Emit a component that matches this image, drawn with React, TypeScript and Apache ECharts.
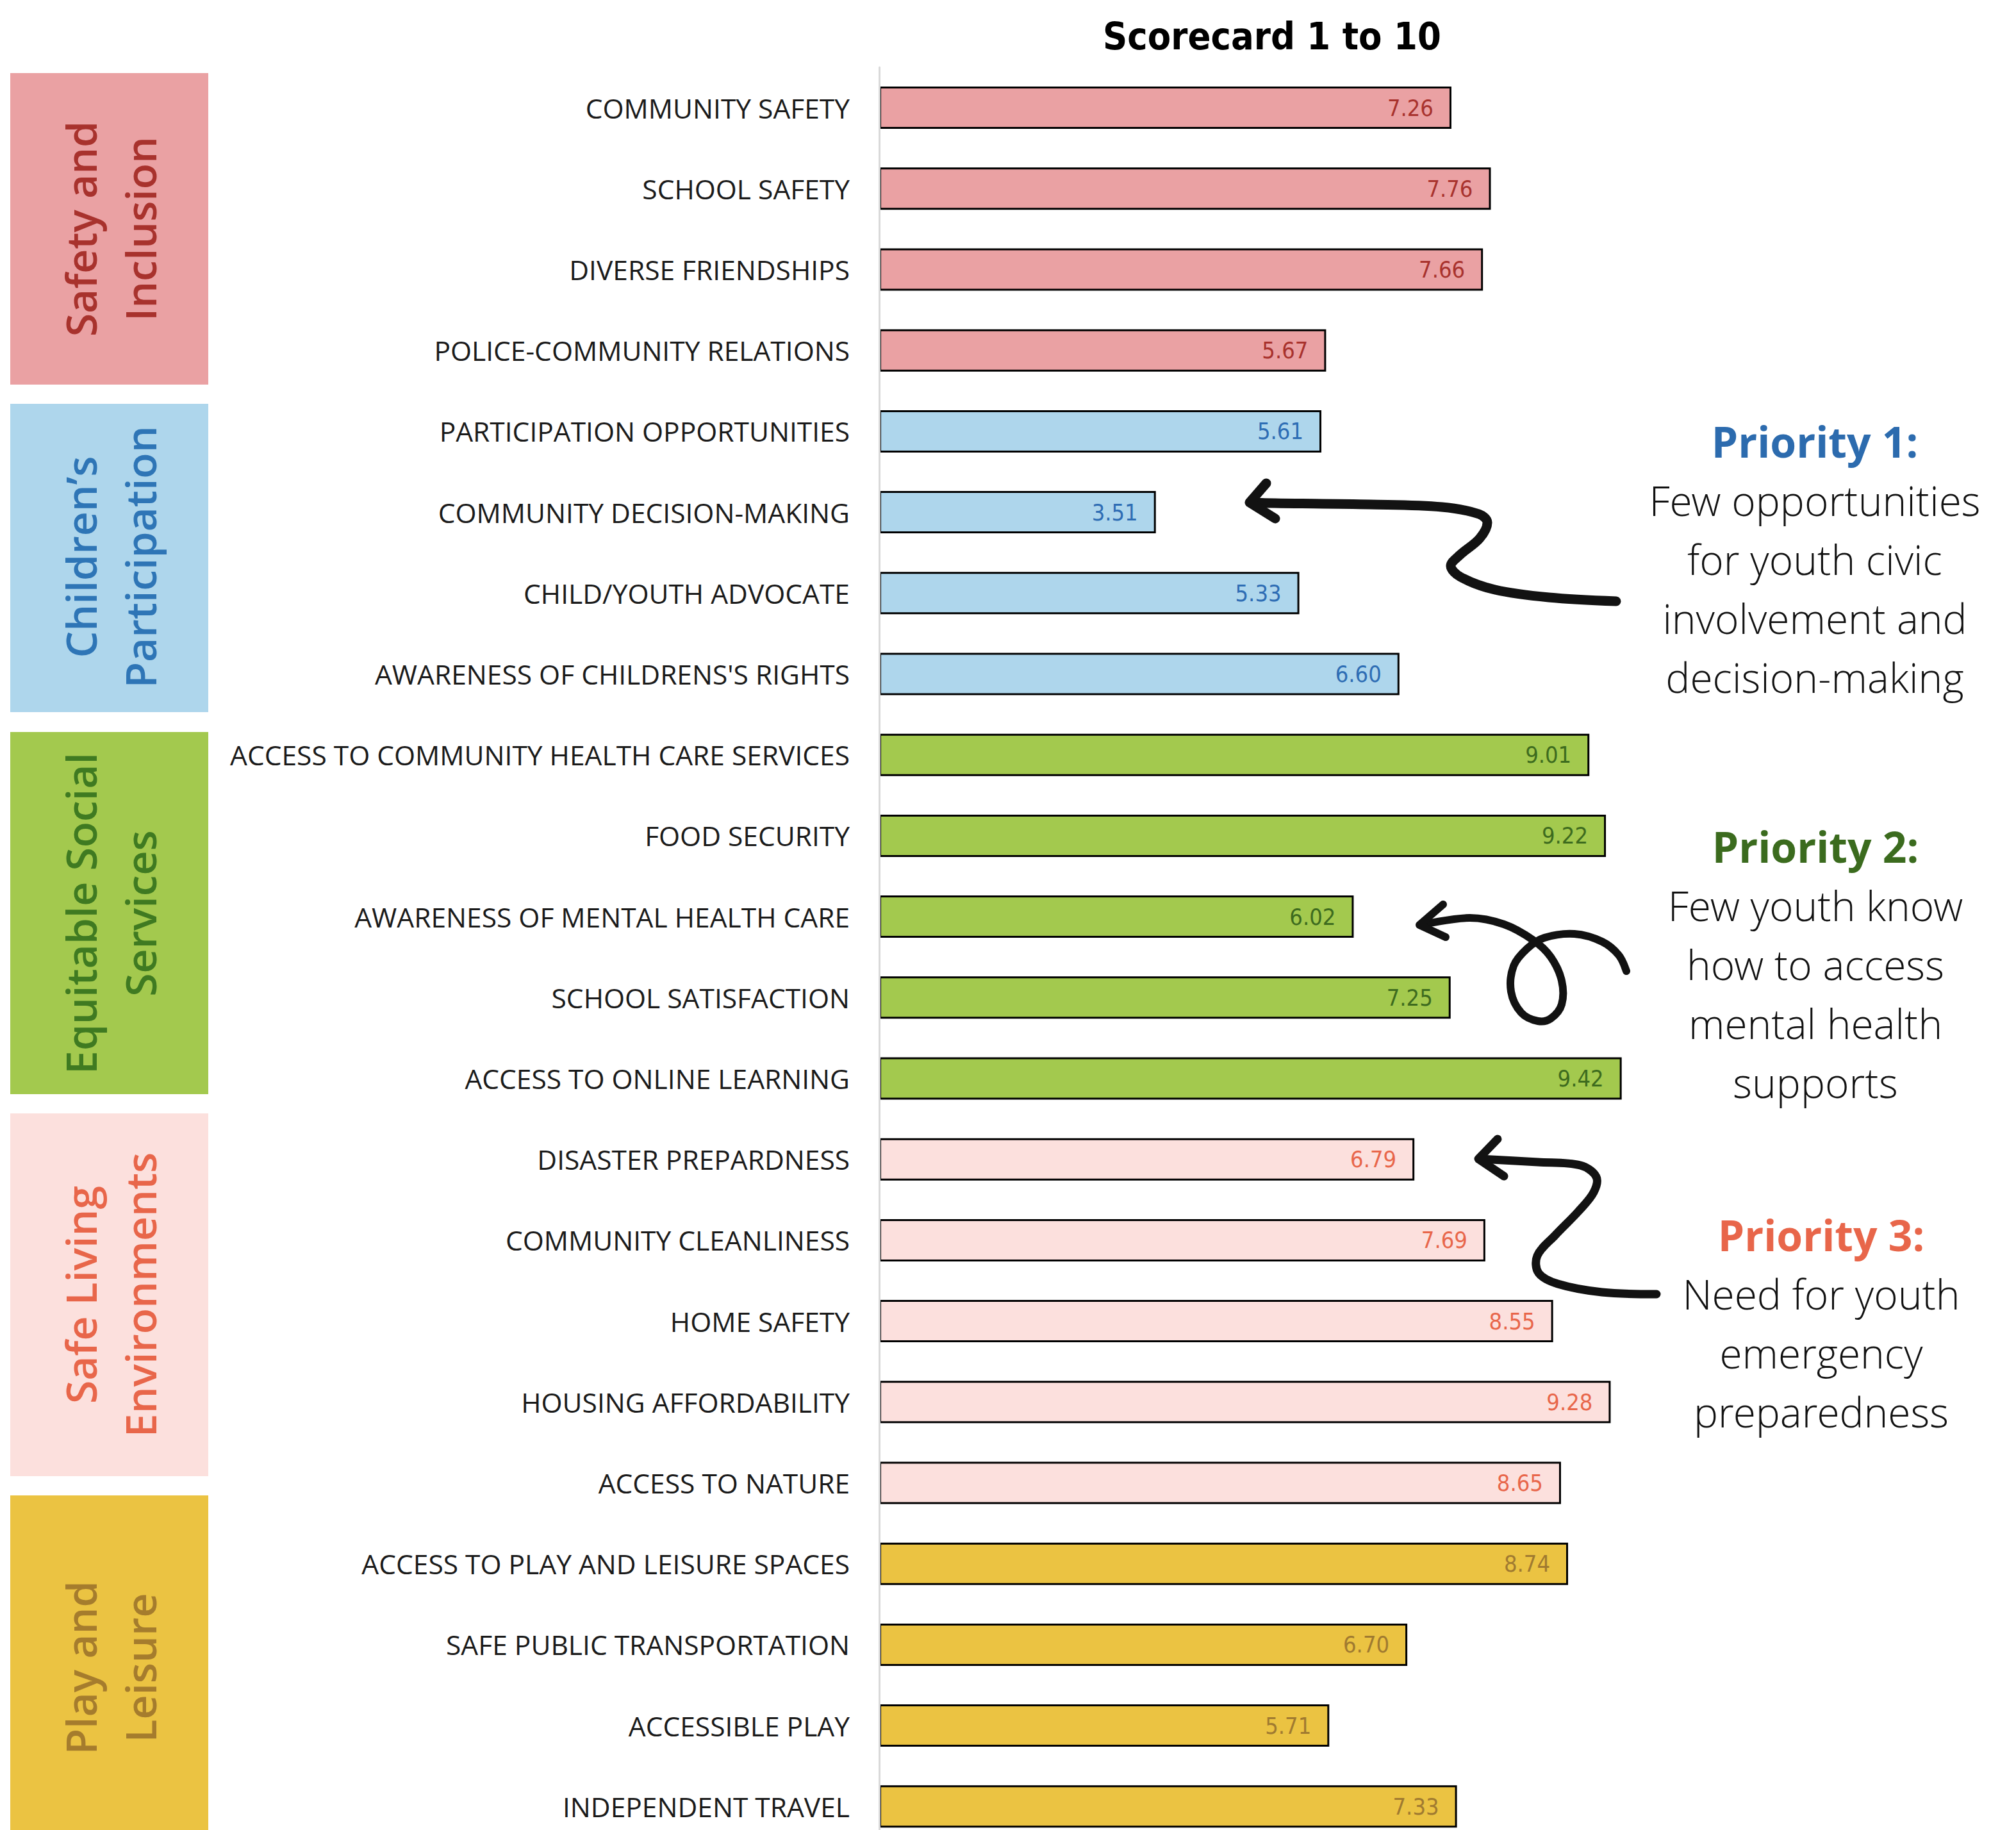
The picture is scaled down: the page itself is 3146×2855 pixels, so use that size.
import React, { useEffect, useRef } from "react";
import * as echarts from "echarts";

// ---------- data ----------
const categories = [
  "COMMUNITY SAFETY",
  "SCHOOL SAFETY",
  "DIVERSE FRIENDSHIPS",
  "POLICE-COMMUNITY RELATIONS",
  "PARTICIPATION OPPORTUNITIES",
  "COMMUNITY DECISION-MAKING",
  "CHILD/YOUTH ADVOCATE",
  "AWARENESS OF CHILDRENS'S RIGHTS",
  "ACCESS TO COMMUNITY HEALTH CARE SERVICES",
  "FOOD SECURITY",
  "AWARENESS OF MENTAL HEALTH CARE",
  "SCHOOL SATISFACTION",
  "ACCESS TO ONLINE LEARNING",
  "DISASTER PREPARDNESS",
  "COMMUNITY CLEANLINESS",
  "HOME SAFETY",
  "HOUSING AFFORDABILITY",
  "ACCESS TO NATURE",
  "ACCESS TO PLAY AND LEISURE SPACES",
  "SAFE PUBLIC TRANSPORTATION",
  "ACCESSIBLE PLAY",
  "INDEPENDENT TRAVEL",
];
const scores = [
  7.26, 7.76, 7.66, 5.67, 5.61, 3.51, 5.33, 6.6, 9.01, 9.22, 6.02, 7.25, 9.42,
  6.79, 7.69, 8.55, 9.28, 8.65, 8.74, 6.7, 5.71, 7.33,
];
const groupNames = [
  "Safety and\nInclusion",
  "Children\u2019s\nParticipation",
  "Equitable Social\nServices",
  "Safe Living\nEnvironments",
  "Play and\nLeisure",
];
const groupSizes = [4, 4, 5, 5, 4];
const barColors = ["#EAA1A3", "#AED6EC", "#A3C94E", "#FCE0DD", "#EBC342"];
const valueLabelColors = ["#A8322D", "#2E6DB4", "#3D6B1E", "#E8664A", "#A07A30"];
const groupTextColors = ["#A8322D", "#2E75B6", "#3F7A21", "#E8664A", "#A57C2D"];

const chartTitle = "Scorecard 1 to 10";
const priorityTitles = ["Priority 1:", "Priority 2:", "Priority 3:"];
const priorityTexts = [
  "Few opportunities\nfor youth civic\ninvolvement and\ndecision-making",
  "Few youth know\nhow to access\nmental health\nsupports",
  "Need for youth\nemergency\npreparedness",
];
const priorityColors = ["#2C6BAE", "#3B6B1E", "#E8664A"];

// ---------- layout (pixels) ----------
const W = 3146;
const H = 2855;
const GRID_LEFT = 1372;
const GRID_RIGHT_EDGE = 2602;
const GRID_TOP = 105;
const BAND = 126.2;
const CHART_H = Math.ceil(GRID_TOP + BAND * categories.length);
const boxLayout = [
  { top: 114, bottom: 600, textY: 357 },
  { top: 630, bottom: 1111, textY: 869 },
  { top: 1142, bottom: 1707, textY: 1425 },
  { top: 1737, bottom: 2303, textY: 2020 },
  { top: 2333, bottom: 2880, textY: 2602 },
];
const priorityLayout = [
  { x: 2832, titleY: 688, bodyY: 780 },
  { x: 2833, titleY: 1320, bodyY: 1412 },
  { x: 2842, titleY: 1926, bodyY: 2018 },
];
const arrows = [
  {
    width: 15,
    shaft: [
      [2522, 938], [2417, 932], [2333, 920], [2279, 900], [2264, 883], [2278, 866],
      [2309, 840], [2321, 815], [2308, 802], [2250, 791], [2138, 787], [1990, 785], [1952, 784],
    ],
    head: [[1976, 754], [1950, 784], [1990, 809]],
  },
  {
    width: 12,
    shaft: [
      [2217, 1443], [2293, 1432], [2347, 1442], [2393, 1467], [2420, 1493], [2437, 1530],
      [2437, 1567], [2420, 1589], [2400, 1593], [2374, 1580], [2358, 1547], [2362, 1507],
      [2383, 1480], [2410, 1463], [2457, 1457], [2500, 1469], [2526, 1490], [2538, 1515],
    ],
    head: [[2252, 1411], [2215, 1443], [2256, 1462]],
  },
  {
    width: 13,
    shaft: [
      [2309, 1808], [2400, 1813], [2466, 1818], [2491, 1836], [2487, 1860], [2463, 1890],
      [2427, 1927], [2399, 1959], [2401, 1986], [2431, 2003], [2500, 2016], [2585, 2019],
    ],
    head: [[2337, 1777], [2307, 1808], [2347, 1835]],
  },
];

const CAT_FONT = '"Open Sans", "Noto Sans", sans-serif';
const NUM_FONT = '"DejaVu Sans Condensed", "Liberation Sans Narrow", sans-serif';
const OPEN = '"Open Sans", "Noto Sans", sans-serif';
const OPEN_LIGHT = '"Open Sans Light", "Open Sans", "Noto Sans", sans-serif';

export default function App() {
  const ref = useRef<HTMLDivElement>(null);

  useEffect(() => {
    if (!ref.current) return;
    const chart = echarts.init(ref.current, null, { renderer: "svg" });

    const groupIdx: number[] = [];
    groupSizes.forEach((n, g) => {
      for (let i = 0; i < n; i++) groupIdx.push(g);
    });

    const barData = scores.map((v, i) => ({
      value: v,
      itemStyle: { color: barColors[groupIdx[i]] },
      label: { color: valueLabelColors[groupIdx[i]] },
    }));

    const graphics: any[] = [];

    // title
    graphics.push({
      type: "text",
      x: (GRID_LEFT + 2598) / 2,
      y: 56,
      style: {
        text: chartTitle,
        fill: "#000",
        fontFamily: NUM_FONT,
        fontWeight: "bold",
        fontSize: 59,
        align: "center",
        verticalAlign: "middle",
      },
    });

    // group boxes
    boxLayout.forEach((b, g) => {
      graphics.push({
        type: "rect",
        shape: { x: 16, y: b.top, width: 309, height: b.bottom - b.top },
        style: { fill: barColors[g] },
        z: 1,
      });
      graphics.push({
        type: "text",
        x: 171,
        y: b.textY,
        rotation: Math.PI / 2,
        z: 2,
        style: {
          text: groupNames[g],
          fill: groupTextColors[g],
          fontFamily: OPEN,
          fontWeight: 600,
          fontSize: 66,
          lineHeight: 93,
          align: "center",
          verticalAlign: "middle",
        },
      });
    });

    // priority annotations
    priorityLayout.forEach((p, k) => {
      graphics.push({
        type: "text",
        x: p.x,
        y: p.titleY,
        style: {
          text: priorityTitles[k],
          fill: priorityColors[k],
          fontFamily: OPEN,
          fontWeight: "bold",
          fontSize: 66,
          align: "center",
          verticalAlign: "middle",
        },
      });
      graphics.push({
        type: "text",
        x: p.x,
        y: p.bodyY - 46,
        style: {
          text: priorityTexts[k],
          fill: "#111",
          fontFamily: OPEN_LIGHT,
          fontWeight: 300,
          fontSize: 64,
          lineHeight: 92,
          align: "center",
          verticalAlign: "top",
        },
      });
    });

    // hand-drawn arrows
    arrows.forEach((a) => {
      [a.shaft, a.head].forEach((pts, j) => {
        graphics.push({
          type: "polyline",
          shape: j === 0 ? { points: pts, smooth: 0.35 } : { points: pts },
          style: {
            stroke: "#121212",
            lineWidth: a.width,
            fill: "none",
            lineCap: "round",
            lineJoin: "round",
          },
          z: 5,
        });
      });
    });

    const option: any = {
      animation: false,
      backgroundColor: "#ffffff",
      grid: {
        left: GRID_LEFT,
        right: W - GRID_RIGHT_EDGE,
        top: GRID_TOP,
        bottom: CHART_H - GRID_TOP - BAND * categories.length,
        containLabel: false,
      },
      xAxis: {
        type: "value",
        min: 0,
        max: 10,
        show: false,
        splitLine: { show: false },
      },
      yAxis: {
        type: "category",
        data: categories,
        inverse: true,
        z: 4,
        axisTick: { show: false },
        axisLine: { show: true, lineStyle: { color: "#d9d9d9", width: 3 } },
        axisLabel: {
          margin: 46,
          color: "#1a1a1a",
          fontFamily: CAT_FONT,
          fontSize: 42.5,
        },
        splitLine: { show: false },
      },
      series: [
        {
          type: "bar",
          data: barData,
          barWidth: 66,
          itemStyle: { borderColor: "#000", borderWidth: 3 },
          label: {
            show: true,
            position: "insideRight",
            distance: 28,
            fontFamily: NUM_FONT,
            fontSize: 36,
            formatter: (p: any) => Number(p.value).toFixed(2),
          },
        },
      ],
      graphic: graphics,
    };

    chart.setOption(option);
    return () => chart.dispose();
  }, []);

  return (
    <div
      style={{
        position: "absolute",
        left: 0,
        top: 0,
        width: W,
        height: H,
        overflow: "hidden",
        background: "#fff",
      }}
    >
      <div ref={ref} style={{ width: W, height: CHART_H }} />
    </div>
  );
}
